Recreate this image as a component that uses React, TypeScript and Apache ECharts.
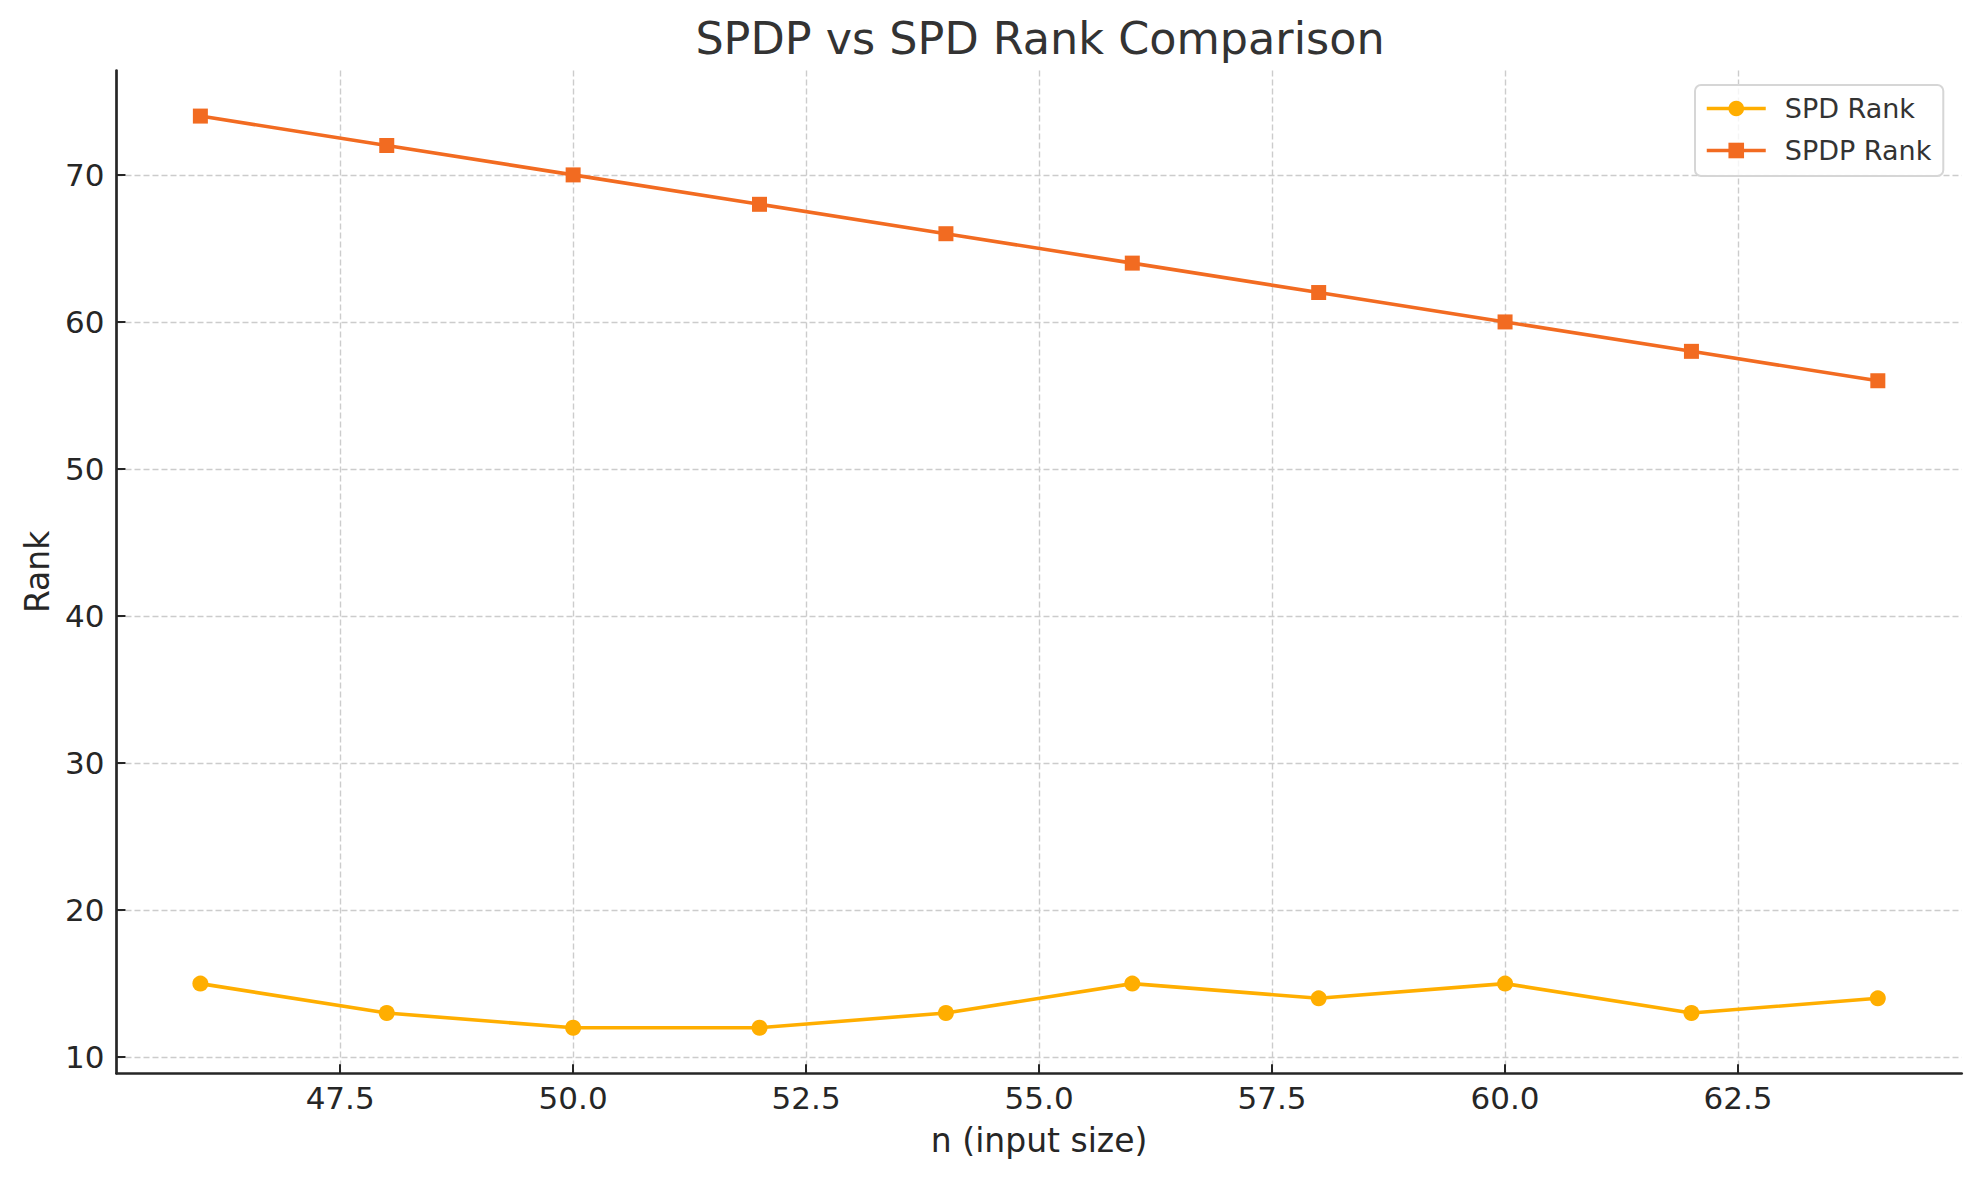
import React, { useEffect, useRef } from "react";
import * as echarts from "echarts";

const nValues = [46, 48, 50, 52, 54, 56, 58, 60, 62, 64];
const spdRank = [15, 13, 12, 12, 13, 15, 14, 15, 13, 14];
const spdpRank = [74, 72, 70, 68, 66, 64, 62, 60, 58, 56];
const xTicks = [47.5, 50, 52.5, 55, 57.5, 60, 62.5];
const yTicks = [10, 20, 30, 40, 50, 60, 70];

const FONT = "DejaVu Sans";

export default function App() {
  const ref = useRef<HTMLDivElement>(null);
  useEffect(() => {
    if (!ref.current) return;
    const chart = echarts.init(ref.current, null, { renderer: "svg" });
    const axisLine = { show: true, lineStyle: { color: "#262626", width: 2.7 } };
    const axisTick = (vals: number[]) => ({
      show: true,
      inside: true,
      length: 9,
      customValues: vals,
      lineStyle: { color: "#262626", width: 2 },
    });
    const splitLine = {
      show: true,
      lineStyle: { color: "#cccccc", width: 1.4, type: [6, 3] },
    };
    chart.setOption({
      animation: false,
      backgroundColor: "#ffffff",
      title: {
        text: "SPDP vs SPD Rank Comparison",
        left: 1035,
        top: 11,
        textAlign: "center",
        textStyle: { fontFamily: FONT, fontSize: 44.5, fontWeight: "normal", color: "#333333" },
      },
      legend: {
        orient: "vertical",
        left: 1695,
        top: 85,
        padding: [10, 12, 12, 10],
        itemWidth: 59,
        itemHeight: 19.5,
        itemGap: 15,
        backgroundColor: "rgba(255,255,255,0.8)",
        borderColor: "#d6d6d6",
        borderWidth: 2,
        borderRadius: 6,
        lineStyle: { width: 3.5 },
        textStyle: { fontFamily: FONT, fontSize: 27, color: "#333333", padding: [0, 0, 0, 14] },
        data: ["SPD Rank", "SPDP Rank"],
      },
      grid: {
        left: 116.5,
        right: 17.3,
        top: 70.5,
        bottom: 106.7,
        containLabel: false,
        outerBoundsMode: "none",
      },
      xAxis: {
        type: "value",
        min: 45.1,
        max: 64.9,
        name: "n (input size)",
        nameLocation: "middle",
        nameGap: 51,
        nameTextStyle: { fontFamily: FONT, fontSize: 33, color: "#262626" },
        axisLine,
        axisTick: axisTick(xTicks),
        axisLabel: {
          customValues: xTicks,
          margin: 9,
          fontFamily: FONT,
          fontSize: 31,
          color: "#262626",
          formatter: (v: number) => v.toFixed(1),
        },
        splitLine,
      },
      yAxis: {
        type: "value",
        min: 8.9,
        max: 77.1,
        name: "Rank",
        nameLocation: "middle",
        nameRotate: 90,
        nameGap: 63,
        nameTextStyle: { fontFamily: FONT, fontSize: 33, color: "#262626" },
        axisLine,
        axisTick: axisTick(yTicks),
        axisLabel: {
          customValues: yTicks,
          margin: 12,
          fontFamily: FONT,
          fontSize: 31,
          color: "#262626",
          formatter: (v: number) => String(v),
        },
        splitLine,
      },
      series: [
        {
          name: "SPD Rank",
          type: "line",
          data: nValues.map((n, i) => [n, spdRank[i]]),
          symbol: "circle",
          symbolSize: 16,
          color: "#ffae00",
          lineStyle: { width: 3.6, color: "#ffae00" },
          itemStyle: { color: "#ffae00" },
        },
        {
          name: "SPDP Rank",
          type: "line",
          data: nValues.map((n, i) => [n, spdpRank[i]]),
          symbol: "rect",
          symbolSize: 15,
          color: "#f26b21",
          lineStyle: { width: 3.6, color: "#f26b21" },
          itemStyle: { color: "#f26b21" },
        },
      ],
    });
    return () => chart.dispose();
  }, []);
  return (
    <div
      ref={ref}
      style={{ position: "fixed", left: 0, top: 0, width: 1979, height: 1180, background: "#fff" }}
    />
  );
}
